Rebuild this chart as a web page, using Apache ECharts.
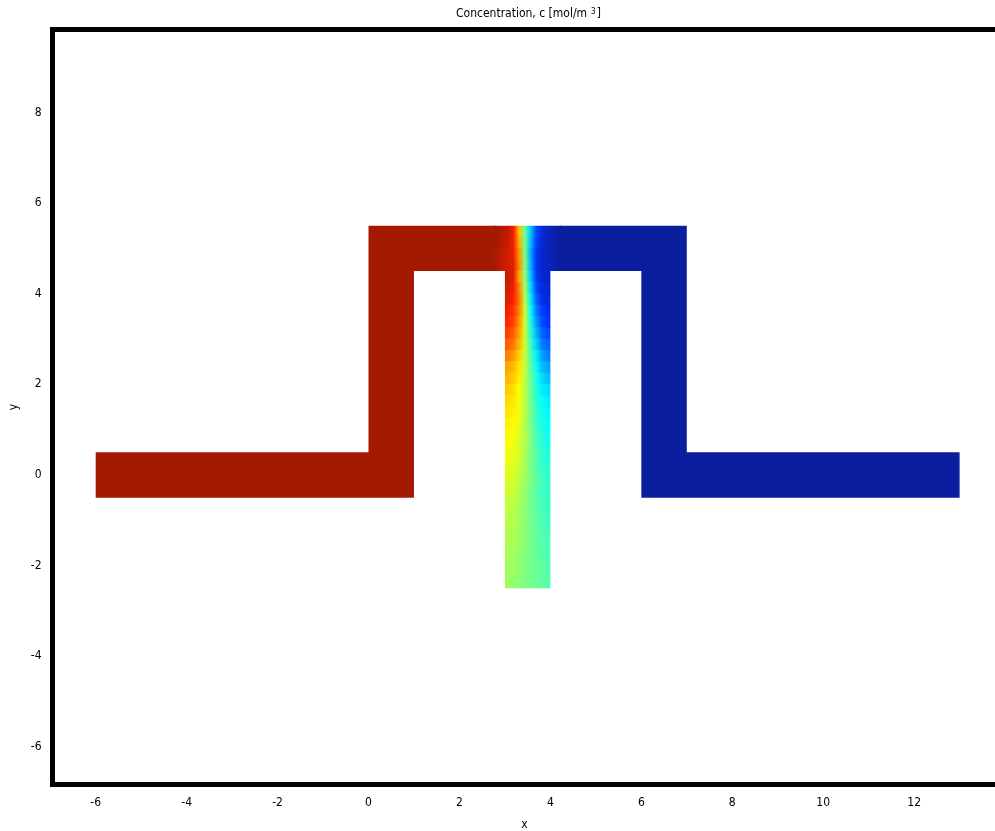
<!DOCTYPE html>
<html><head><meta charset="utf-8">
<script src="https://cdn.jsdelivr.net/npm/echarts@6/dist/echarts.min.js"></script>
<style>html,body{margin:0;padding:0;background:#fff;overflow:hidden}#chart{width:995px;height:831px}</style>
</head><body><div id="chart"></div>
<script>
// Tick labels
const xTicks = [-6, -4, -2, 0, 2, 4, 6, 8, 10, 12];
const yTicks = [-6, -4, -2, 0, 2, 4, 6, 8];

// Uniform regions (domain outlines in x/y units) and their concentration
const redOutline = [[-6, -0.5], [1, -0.5], [1, 4.5], [2.8, 4.5], [2.8, 5.5], [0, 5.5], [0, 0.5], [-6, 0.5]];
const blueOutline = [[4.2, 4.5], [6, 4.5], [6, -0.5], [13, -0.5], [13, 0.5], [7, 0.5], [7, 5.5], [4.2, 5.5]];
const regionOutlines = [redOutline, blueOutline];
const regionValues = [1, 0];

// Mixing zone in the top bar (cells of 0.125 x 0.25)
const topXEdges = [2.75, 2.875, 3, 3.125, 3.25, 3.375, 3.5, 3.625, 3.75, 3.875, 4, 4.125, 4.25];
const topYEdges = [5.5, 5.25, 5, 4.75, 4.5];
const topValues = [
  [1.00, 0.98, 0.96, 0.89, 0.69, 0.48, 0.32, 0.16, 0.08, 0.04, 0.02, 0.00],
  [1.00, 0.97, 0.95, 0.89, 0.71, 0.49, 0.31, 0.15, 0.07, 0.04, 0.02, 0.00],
  [0.99, 0.96, 0.94, 0.90, 0.74, 0.50, 0.29, 0.13, 0.06, 0.04, 0.02, 0.00],
  [0.99, 0.95, 0.94, 0.91, 0.75, 0.51, 0.30, 0.13, 0.06, 0.05, 0.03, 0.01]
];

// Outlet channel (cells of 0.125 x 0.25)
const outletXEdges = [3, 3.125, 3.25, 3.375, 3.5, 3.625, 3.75, 3.875, 4];
const outletYEdges = [4.5, 4.25, 4, 3.75, 3.5, 3.25, 3, 2.75, 2.5, 2.25, 2, 1.75, 1.5, 1.25, 1, 0.75, 0.5, 0.25, 0,
  -0.25, -0.5, -0.75, -1, -1.25, -1.5, -1.75, -2, -2.25, -2.5];
const outletValues = [
  [0.95, 0.91, 0.72, 0.52, 0.32, 0.14, 0.07, 0.05],
  [0.94, 0.90, 0.76, 0.54, 0.34, 0.16, 0.08, 0.06],
  [0.92, 0.88, 0.77, 0.56, 0.36, 0.20, 0.10, 0.08],
  [0.89, 0.85, 0.76, 0.58, 0.38, 0.24, 0.14, 0.10],
  [0.87, 0.83, 0.74, 0.58, 0.40, 0.27, 0.17, 0.13],
  [0.84, 0.80, 0.72, 0.58, 0.42, 0.30, 0.20, 0.16],
  [0.80, 0.77, 0.70, 0.58, 0.44, 0.33, 0.24, 0.20],
  [0.76, 0.73, 0.67, 0.57, 0.46, 0.36, 0.28, 0.24],
  [0.72, 0.70, 0.65, 0.57, 0.47, 0.38, 0.31, 0.28],
  [0.70, 0.68, 0.64, 0.56, 0.48, 0.40, 0.34, 0.31],
  [0.68, 0.66, 0.62, 0.56, 0.48, 0.41, 0.36, 0.34],
  [0.66, 0.65, 0.61, 0.56, 0.49, 0.42, 0.38, 0.36],
  [0.65, 0.64, 0.61, 0.56, 0.49, 0.43, 0.39, 0.37],
  [0.64, 0.63, 0.60, 0.55, 0.49, 0.44, 0.40, 0.38],
  [0.63, 0.62, 0.59, 0.55, 0.50, 0.45, 0.41, 0.39],
  [0.62, 0.61, 0.58, 0.55, 0.50, 0.45, 0.42, 0.40],
  [0.61, 0.60, 0.58, 0.54, 0.50, 0.46, 0.42, 0.41],
  [0.60, 0.59, 0.57, 0.54, 0.50, 0.46, 0.43, 0.42],
  [0.59, 0.58, 0.56, 0.53, 0.50, 0.47, 0.44, 0.43],
  [0.58, 0.57, 0.55, 0.52, 0.49, 0.46, 0.44, 0.43],
  [0.57, 0.56, 0.54, 0.52, 0.49, 0.46, 0.44, 0.43],
  [0.56, 0.55, 0.54, 0.51, 0.49, 0.47, 0.45, 0.44],
  [0.55, 0.55, 0.53, 0.51, 0.49, 0.47, 0.45, 0.44],
  [0.55, 0.54, 0.53, 0.51, 0.49, 0.47, 0.46, 0.45],
  [0.54, 0.54, 0.52, 0.51, 0.49, 0.47, 0.46, 0.45],
  [0.54, 0.53, 0.52, 0.50, 0.49, 0.48, 0.46, 0.45],
  [0.53, 0.53, 0.52, 0.50, 0.49, 0.48, 0.47, 0.46],
  [0.53, 0.52, 0.51, 0.50, 0.49, 0.48, 0.47, 0.46]
];

// Jet-like colour palette (value 0 -> 1)
const palette = ['#0b1e9e', '#0030ff', '#0088ff', '#00ffff', '#80ff80', '#ffff00', '#ff8800', '#ff2000', '#a31a00'];
function colorOf(v) { return echarts.color.lerp(Math.max(0, Math.min(1, v)), palette); }

// Row items: [x0, x1, y0, y1, rowIndex]
function rowItems(xE, yE, vals) {
  const out = [];
  for (let i = 0; i < vals.length; i++) out.push([xE[0], xE[xE.length - 1], yE[i + 1], yE[i], i]);
  return out;
}
const topRows = rowItems(topXEdges, topYEdges, topValues);
const outletRows = rowItems(outletXEdges, outletYEdges, outletValues);
const regionItems = regionValues.map((v, i) => [i, v]);

function rowRenderer(xE, yE, vals) {
  return function (params, api) {
    const i = api.value(4);
    const p0 = api.coord([api.value(0), api.value(3)]);
    const p1 = api.coord([api.value(1), api.value(2)]);
    const row = vals[i];
    const span = xE[xE.length - 1] - xE[0];
    const stops = [{ offset: 0, color: colorOf(row[0]) }];
    row.forEach((v, j) => {
      stops.push({ offset: ((xE[j] + xE[j + 1]) / 2 - xE[0]) / span, color: colorOf(v) });
    });
    stops.push({ offset: 1, color: colorOf(row[row.length - 1]) });
    const grad = { type: 'linear', x: 0, y: 0, x2: 1, y2: 0, colorStops: stops, global: false };
    const padTop = i > 0 ? 0.4 : 0;
    const padBottom = i < vals.length - 1 ? 0.4 : 0;
    return {
      type: 'rect',
      shape: { x: p0[0], y: p0[1] - padTop, width: p1[0] - p0[0], height: p1[1] - p0[1] + padTop + padBottom },
      style: { fill: grad }
    };
  };
}

const FONT = "'DejaVu Sans Condensed', 'DejaVu Sans', sans-serif";
const chart = echarts.init(document.getElementById('chart'), null, { renderer: 'canvas' });
chart.setOption({
  animation: false,
  backgroundColor: '#fff',
  title: {
    text: 'Concentration, c [mol/m{s|3}]',
    left: 451, top: 3,
    textStyle: {
      fontSize: 12, fontWeight: 'normal', color: '#000', fontFamily: FONT,
      rich: { s: { fontSize: 8, verticalAlign: 'top', padding: [0, 1, 0, 4], fontFamily: FONT, color: '#000' } }
    }
  },
  grid: {
    left: 52.5, top: 29.5, width: 982, height: 755,
    outerBoundsMode: 'none', containLabel: false,
    show: true, borderColor: '#000', borderWidth: 5, backgroundColor: '#fff'
  },
  xAxis: {
    type: 'value', min: -6.95, max: 14.647,
    axisLine: { show: false }, axisTick: { show: false }, splitLine: { show: false },
    axisLabel: { customValues: xTicks, margin: 12, fontSize: 12, color: '#000', fontFamily: FONT },
    name: 'x', nameLocation: 'middle', nameGap: 34,
    nameTextStyle: { fontSize: 12, color: '#000', fontFamily: FONT, padding: [0, 38, 0, 0] }
  },
  yAxis: {
    type: 'value', min: -6.83, max: 9.83,
    axisLine: { show: false }, axisTick: { show: false }, splitLine: { show: false },
    axisLabel: { customValues: yTicks, margin: 11, fontSize: 12, color: '#000', fontFamily: FONT },
    name: 'y', nameLocation: 'middle', nameGap: 27,
    nameTextStyle: { fontSize: 12, color: '#000', fontFamily: FONT }
  },
  series: [{
    type: 'custom',
    data: regionItems,
    encode: { x: 0, y: 1 },
    renderItem: function (params, api) {
      const outline = regionOutlines[api.value(0)];
      const pts = outline.map(p => api.coord(p));
      return { type: 'polygon', shape: { points: pts }, style: { fill: colorOf(api.value(1)) } };
    }
  }, {
    type: 'custom',
    data: topRows,
    encode: { x: [0, 1], y: [2, 3] },
    renderItem: rowRenderer(topXEdges, topYEdges, topValues)
  }, {
    type: 'custom',
    data: outletRows,
    encode: { x: [0, 1], y: [2, 3] },
    renderItem: rowRenderer(outletXEdges, outletYEdges, outletValues)
  }]
});
</script>
</body></html>
